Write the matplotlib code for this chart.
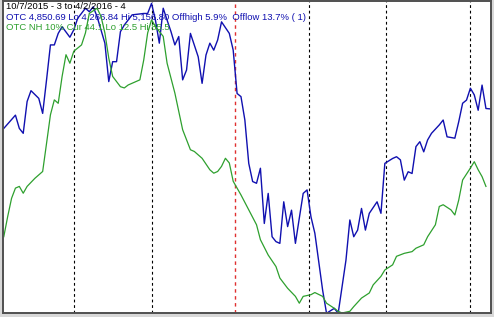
import matplotlib
matplotlib.use("Agg")
import matplotlib.pyplot as plt

# OTC index (blue) - trading day index, close
otc_days = [0, 3, 4, 5, 6, 7, 9, 10, 11, 12, 13, 14, 15, 17, 18, 19, 21, 22, 23, 24,
            26, 27, 28, 29, 30, 31, 33, 36, 37, 38, 39, 40, 41, 42, 43, 44, 45, 46, 47, 48,
            50, 51, 52, 53, 54, 55, 56, 58, 59, 60, 61, 62, 63, 64, 65, 66, 67, 68, 69, 70,
            71, 72, 73, 74, 75, 76, 77, 78, 79, 80, 82, 83, 85, 86, 88, 89, 90, 91, 92, 93,
            94, 96, 97, 98, 100, 101, 102, 103, 104, 105, 106, 107, 108, 109, 110, 112, 113, 114, 116, 117,
            118, 119, 120, 121, 122, 123, 124, 125]
otc_close = [4795, 4833, 4795, 4781, 4872, 4903, 4881, 4838, 4934, 5034, 5034, 5067, 5086, 5056, 5077, 5110, 5139, 5129, 5143, 5115,
             5039, 4929, 4986, 4986, 5072, 5091, 5120, 5124, 5124, 5153, 5105, 5039, 5139, 5105, 5072, 5034, 5058, 4934, 4962, 5067,
             5000, 4924, 5005, 5039, 5019, 5048, 5100, 5067, 5019, 4895, 4886, 4819, 4695, 4643, 4638, 4681, 4523, 4609, 4485, 4471,
             4466, 4585, 4514, 4561, 4466, 4538, 4609, 4619, 4542, 4495, 4332, 4266, 4280, 4266, 4418, 4533, 4485, 4504, 4566, 4504,
             4552, 4585, 4552, 4695, 4709, 4714, 4705, 4647, 4671, 4666, 4743, 4757, 4728, 4762, 4781, 4805, 4819, 4771, 4767, 4814,
             4867, 4876, 4910, 4891, 4847, 4919, 4852, 4851]

# OTC new highs 10% (green)
nh_days = [0, 1, 2, 3, 4, 5, 6, 8, 10, 11, 12, 13, 14, 15, 16, 17, 18, 20, 21, 22,
           24, 25, 26, 27, 28, 30, 31, 32, 33, 35, 36, 37, 38, 39, 41, 42, 44, 46, 48, 49,
           51, 53, 54, 55, 56, 57, 58, 59, 61, 63, 65, 66, 68, 70, 71, 73, 75, 76, 77, 79,
           80, 82, 83, 85, 86, 87, 89, 90, 92, 94, 95, 97, 98, 100, 101, 103, 105, 106, 108, 109,
           111, 112, 113, 115, 116, 117, 118, 120, 121, 122, 123, 124]
nh_pct = [30.4, 35.1, 39.4, 41.8, 42.2, 40.6, 42.2, 44.1, 45.7, 52.3, 59.0, 62.5, 61.7, 68.0, 73.1, 71.1, 73.9, 75.4, 78.2, 82.8,
          84.0, 82.1, 78.2, 72.3, 68.0, 65.6, 65.3, 66.0, 66.4, 67.2, 71.9, 78.2, 81.3, 79.7, 77.4, 71.1, 64.1, 55.5, 50.8, 50.4,
          48.8, 46.1, 45.3, 45.7, 46.9, 48.8, 47.7, 43.4, 40.2, 36.7, 33.2, 29.7, 26.1, 23.4, 20.7, 18.3, 16.4, 14.8, 16.4, 16.8,
          17.3, 16.4, 14.8, 13.6, 12.9, 12.5, 12.9, 14.0, 16.0, 17.2, 19.1, 21.1, 22.6, 23.8, 25.8, 26.5, 26.9, 27.7, 28.5, 30.4,
          33.2, 37.5, 37.9, 36.7, 35.5, 39.0, 43.7, 46.5, 48.0, 46.1, 44.5, 42.2]

month_lines = [18, 38, 78.5, 98.2, 120]
red_line = 59.5

title1 = "10/7/2015 - 3 to 4/2/2016 - 4"
title2 = "OTC 4,850.69 Lo 4,266.84 Hi 5,156.80 Offhigh 5.9%  Offlow 13.7% ( 1)"
title3 = "OTC NH 10% Cur 44.1 Lo 12.5 Hi 85.5"

fig = plt.figure(figsize=(4.94, 3.17), dpi=100, facecolor="#d8d8d8")
ax = fig.add_axes([3/494, 4/317, 488/494, 312/317])
ax.set_facecolor("white")

for d in month_lines:
    ax.axvline(d, color="black", linestyle=(0, (2.5, 2.5)), linewidth=0.8)
ax.axvline(red_line, color="#e03030", linestyle=(0, (2.5, 2.5)), linewidth=1.0)

ax.plot(otc_days, otc_close, color="#1010b0", linewidth=1.0)
ax.set_xlim(-0.2, 125.3)
ax.set_ylim(4266.7, 5159.7)

ax2 = ax.twinx()
ax2.plot(nh_days, nh_pct, color="#2ea02e", linewidth=0.9)
ax2.set_ylim(12.5, 85.7)

for a in (ax, ax2):
    a.set_xticks([])
    a.set_yticks([])
    for s in a.spines.values():
        s.set_color("#505050")
        s.set_linewidth(1.2)

fs = 6.8
fam = ["Liberation Sans", "DejaVu Sans"]
ax.text(0.006, 0.998, title1, transform=ax.transAxes, ha="left", va="top", fontsize=fs, color="black", family=fam)
ax.text(0.006, 0.963, title2, transform=ax.transAxes, ha="left", va="top", fontsize=fs, color="#1010b0", family=fam)
ax.text(0.006, 0.928, title3, transform=ax.transAxes, ha="left", va="top", fontsize=fs, color="#2ea02e", family=fam)

fig.savefig("out.png", dpi=100, facecolor=fig.get_facecolor())
